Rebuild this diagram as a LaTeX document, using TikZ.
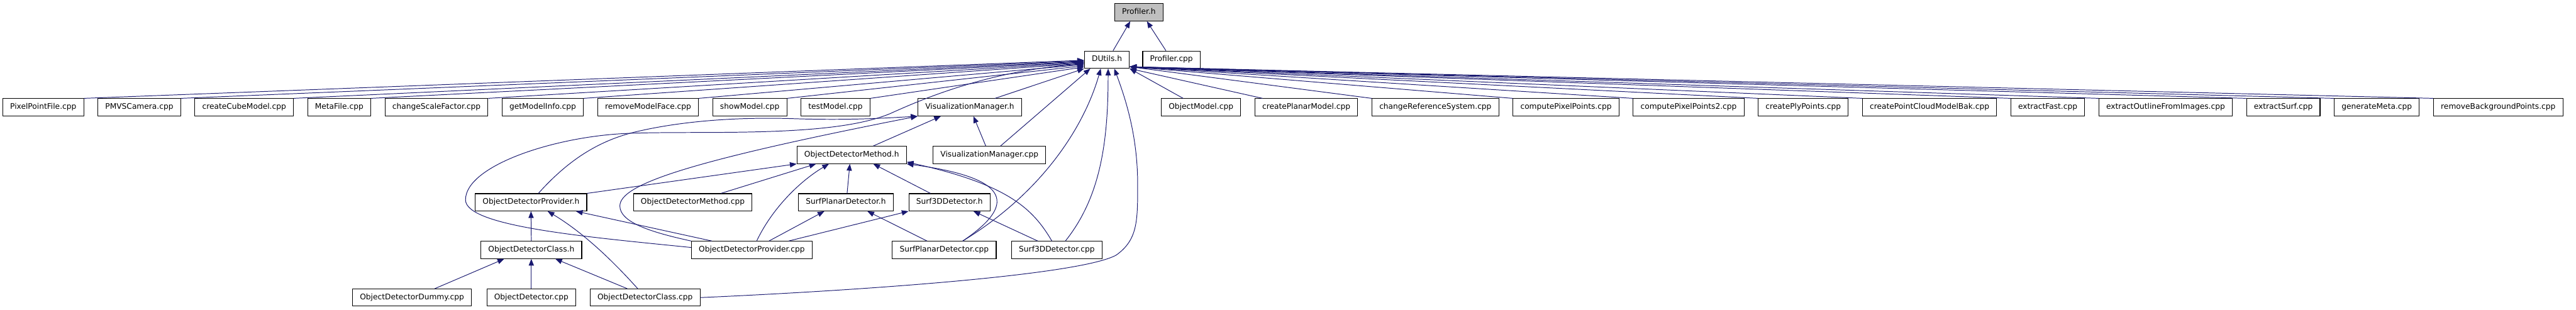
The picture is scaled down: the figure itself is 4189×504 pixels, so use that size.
\documentclass[tikz,border=0pt]{standalone}
\usepackage{fontspec}
\newfontfamily\dvs{DejaVu Sans}
\usetikzlibrary{arrows.meta,positioning}
\definecolor{edgeblue}{RGB}{25,25,112}
\definecolor{curgray}{RGB}{191,191,191}

\begin{document}
\begin{tikzpicture}[x=1pt, y=-1pt,
  every node/.style={draw=black, line width=1.1pt, fill=white,
    font={\dvs\fontsize{12.5}{15}\selectfont}, minimum height=28pt,
    inner xsep=12pt, inner ysep=0pt, text height=9.2pt, text depth=2.8pt},
  >={Triangle[length=11pt,width=8.5pt]},
  inc/.style={->, draw=edgeblue, line width=1pt}]
  \useasboundingbox (0,0) rectangle (4189,504);

  \node[fill=curgray] (prof) at (1852,20) {Profiler.h};
  \node (dutils) at (1800,97) {DUtils.h};
  \node (pcpp) at (1905,97) {Profiler.cpp};

  % files that include DUtils.h, left part
  \node[anchor=west] (ppf) at (4,174.5) {PixelPointFile.cpp};
  \foreach \n/\t [remember=\n as \p (initially ppf)] in {pmvs/PMVSCamera.cpp,
      ccube/createCubeModel.cpp, meta/MetaFile.cpp, csf/changeScaleFactor.cpp,
      gmi/getModelInfo.cpp, rmf/removeModelFace.cpp, show/showModel.cpp,
      test/testModel.cpp}
    \node[right=22pt of \p] (\n) {\t};
  \node (vmh) at (1577,174.5) {VisualizationManager.h};
  % right part
  \node[anchor=west] (om) at (1888,174.5) {ObjectModel.cpp};
  \foreach \n/\t [remember=\n as \p (initially om)] in {cpm/createPlanarModel.cpp,
      crs/changeReferenceSystem.cpp, cpp1/computePixelPoints.cpp,
      cpp2/computePixelPoints2.cpp, cply/createPlyPoints.cpp,
      cpcb/createPointCloudModelBak.cpp, efast/extractFast.cpp,
      eout/extractOutlineFromImages.cpp, esurf/extractSurf.cpp,
      gmeta/generateMeta.cpp, rbg/removeBackgroundPoints.cpp}
    \node[right=22pt of \p] (\n) {\t};

  \node (odm) at (1385,252) {ObjectDetectorMethod.h};
  \node (vmc) at (1609,252) {VisualizationManager.cpp};
  \node (odph) at (863.5,329) {ObjectDetectorProvider.h};
  \node (odmc) at (1126.5,329) {ObjectDetectorMethod.cpp};
  \node (spdh) at (1375.5,329) {SurfPlanarDetector.h};
  \node (s3dh) at (1544,329) {Surf3DDetector.h};
  \node (odch) at (864,406.5) {ObjectDetectorClass.h};
  \node (odpc) at (1222.5,406.5) {ObjectDetectorProvider.cpp};
  \node (spdc) at (1535.5,406.5) {SurfPlanarDetector.cpp};
  \node (s3dc) at (1718.5,406.5) {Surf3DDetector.cpp};
  \node (oddc) at (670,484) {ObjectDetectorDummy.cpp};
  \node (odc) at (864,484) {ObjectDetector.cpp};
  \node (odcc) at (1049,484) {ObjectDetectorClass.cpp};

  % Profiler.h
  \draw[inc] ([xshift=10pt]dutils.north) -- ([xshift=-14pt]prof.south);
  \draw[inc] ([xshift=-9pt]pcpp.north) -- ([xshift=13pt]prof.south);
  % everything into DUtils.h
  \foreach \n/\d in {ppf/1,pmvs/2,ccube/3,meta/4,csf/5,gmi/6,rmf/8,show/10,test/12}
    \draw[inc] (\n.north east) -- ([yshift=-\d pt]dutils.west);
  \draw[inc] ([xshift=41pt]vmh.north) -- (dutils.south west);
  \draw[inc] ([xshift=-29pt]om.north) -- (dutils.south east);
  \draw[inc] ([xshift=13pt]cpm.north west) -- (dutils.south east);
  \foreach \n in {crs,cpp1,cpp2,cply,cpcb,efast,eout,esurf,gmeta,rbg}
    \draw[inc] (\n.north west) -- ([yshift=3pt]dutils.south east);
  \draw[inc] ([xshift=18pt]vmc.north) -- ([xshift=-27pt]dutils.south);
  \draw[inc] ([xshift=30pt]spdc.north) .. controls (1700,310) and (1765,200)
    .. ([xshift=-10pt]dutils.south);
  \draw[inc] ([xshift=14pt]s3dc.north) .. controls (1790,320) and (1802,230)
    .. ([xshift=2pt]dutils.south);
  \draw[inc] (odcc.east) .. controls (1450,470) and (1760,445) .. (1815,415)
    .. controls (1850,390) and (1850,360) .. (1850,300)
    .. controls (1850,220) and (1830,160) .. ([xshift=12pt]dutils.south);
  \draw[inc] ([yshift=4pt]odpc.west) .. controls (950,385) and (757,368) .. (757,325)
    .. controls (757,270) and (900,222) .. (1020,217)
    .. controls (1140,212) and (1350,225) .. (1447,185)
    .. controls (1485,168) and (1600,115) .. ([yshift=-7pt]dutils.west);
  % VisualizationManager.h
  \draw[inc] ([xshift=-6pt]vmc.north) -- ([xshift=6pt]vmh.south);
  \draw[inc] ([xshift=35pt]odm.north) -- ([xshift=-47pt]vmh.south);
  \draw[inc] ([xshift=12pt]odph.north) .. controls (920,265) and (970,228) .. (1040,213)
    .. controls (1110,197) and (1200,190) .. (1290,193)
    .. controls (1380,196) and (1440,192) .. (vmh.south west);
  \draw[inc] (odpc.north west) .. controls (1060,378) and (1008,362) .. (1008,335)
    .. controls (1008,300) and (1120,262) .. (vmh.south west);
  % ObjectDetectorMethod.h
  \draw[inc] (odph.north east) -- (odm.south west);
  \draw[inc] ([xshift=46pt]odmc.north) -- ([xshift=-58pt]odm.south);
  \draw[inc] ([xshift=8pt]odpc.north) .. controls (1255,340) and (1300,295)
    .. ([xshift=-37pt]odm.south);
  \draw[inc] ([xshift=2pt]spdh.north) -- ([xshift=-3pt]odm.south);
  \draw[inc] ([xshift=-31pt]s3dh.north) -- ([xshift=35pt]odm.south);
  \draw[inc] ([xshift=30pt]spdc.north) .. controls (1650,335) and (1650,290)
    .. (odm.south east);
  \draw[inc] ([xshift=-8pt]s3dc.north) .. controls (1680,340) and (1640,300)
    .. ([yshift=3pt]odm.south east);
  % detector headers
  \draw[inc] ([xshift=28pt]odpc.north) -- ([xshift=-35pt]spdh.south);
  \draw[inc] ([xshift=60pt]odpc.north) -- (s3dh.south west);
  \draw[inc] ([xshift=-28pt]spdc.north) -- ([xshift=35pt]spdh.south);
  \draw[inc] ([xshift=-31pt]s3dc.north) -- ([xshift=39pt]s3dh.south);
  % ObjectDetectorProvider.h and ObjectDetectorClass.h
  \draw[inc] ([xshift=-65pt]odpc.north) -- ([xshift=73pt]odph.south);
  \draw[inc] (odch.north) -- (odph.south);
  \draw[inc] ([xshift=-12pt]odcc.north) .. controls (1015,445) and (960,385)
    .. ([xshift=27pt]odph.south);
  \draw[inc] ([xshift=37pt]oddc.north) -- ([xshift=-44pt]odch.south);
  \draw[inc] (odc.north) -- (odch.south);
  \draw[inc] ([xshift=-29pt]odcc.north) -- ([xshift=39pt]odch.south);
\end{tikzpicture}
\end{document}
